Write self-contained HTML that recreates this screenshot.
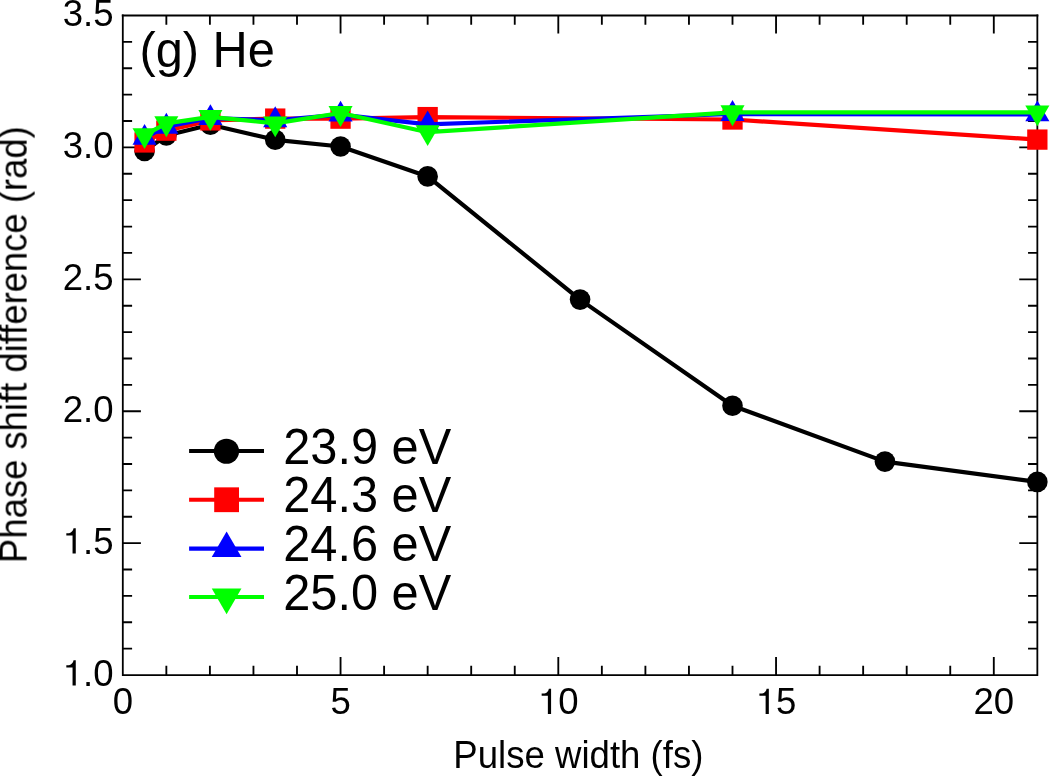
<!DOCTYPE html>
<html><head><meta charset="utf-8"><title>Phase shift difference vs pulse width</title>
<style>html,body{margin:0;padding:0;background:#fff;}body{width:1050px;height:776px;overflow:hidden;}svg{display:block;}text{font-family:"Liberation Sans",sans-serif;fill:#000;}</style>
</head><body>
<svg width="1050" height="776" viewBox="0 0 1050 776">
<rect x="0" y="0" width="1050" height="776" fill="#fff"/>
<path d="M166.35 675.05v-9.3M166.35 15.5v9.3M209.9 675.05v-9.3M209.9 15.5v9.3M253.45 675.05v-9.3M253.45 15.5v9.3M297 675.05v-9.3M297 15.5v9.3M340.55 675.05v-18.1M340.55 15.5v18.1M384.1 675.05v-9.3M384.1 15.5v9.3M427.65 675.05v-9.3M427.65 15.5v9.3M471.2 675.05v-9.3M471.2 15.5v9.3M514.75 675.05v-9.3M514.75 15.5v9.3M558.3 675.05v-18.1M558.3 15.5v18.1M601.85 675.05v-9.3M601.85 15.5v9.3M645.4 675.05v-9.3M645.4 15.5v9.3M688.95 675.05v-9.3M688.95 15.5v9.3M732.5 675.05v-9.3M732.5 15.5v9.3M776.05 675.05v-18.1M776.05 15.5v18.1M819.6 675.05v-9.3M819.6 15.5v9.3M863.15 675.05v-9.3M863.15 15.5v9.3M906.7 675.05v-9.3M906.7 15.5v9.3M950.25 675.05v-9.3M950.25 15.5v9.3M993.8 675.05v-18.1M993.8 15.5v18.1M122.8 648.67h9.3M1037.35 648.67h-9.3M122.8 622.29h9.3M1037.35 622.29h-9.3M122.8 595.9h9.3M1037.35 595.9h-9.3M122.8 569.52h9.3M1037.35 569.52h-9.3M122.8 543.14h18.1M1037.35 543.14h-18.1M122.8 516.76h9.3M1037.35 516.76h-9.3M122.8 490.38h9.3M1037.35 490.38h-9.3M122.8 463.99h9.3M1037.35 463.99h-9.3M122.8 437.61h9.3M1037.35 437.61h-9.3M122.8 411.23h18.1M1037.35 411.23h-18.1M122.8 384.85h9.3M1037.35 384.85h-9.3M122.8 358.47h9.3M1037.35 358.47h-9.3M122.8 332.08h9.3M1037.35 332.08h-9.3M122.8 305.7h9.3M1037.35 305.7h-9.3M122.8 279.32h18.1M1037.35 279.32h-18.1M122.8 252.94h9.3M1037.35 252.94h-9.3M122.8 226.56h9.3M1037.35 226.56h-9.3M122.8 200.17h9.3M1037.35 200.17h-9.3M122.8 173.79h9.3M1037.35 173.79h-9.3M122.8 147.41h18.1M1037.35 147.41h-18.1M122.8 121.03h9.3M1037.35 121.03h-9.3M122.8 94.65h9.3M1037.35 94.65h-9.3M122.8 68.26h9.3M1037.35 68.26h-9.3M122.8 41.88h9.3M1037.35 41.88h-9.3" stroke="#000" stroke-width="1.85" fill="none"/>
<path d="M122.8 15.5V675.05H1037.35V15.5" fill="none" stroke="#000" stroke-width="1.8" stroke-linecap="square"/>
<path d="M122.8 15.5H1037.35" fill="none" stroke="#000" stroke-width="2" stroke-linecap="square"/>
<g opacity="0.999">
<text transform="translate(62.63 26) scale(1 1.035)" font-size="36.6">3.5</text>
<text transform="translate(62.63 157.91) scale(1 1.035)" font-size="36.6">3.0</text>
<text transform="translate(62.63 289.82) scale(1 1.035)" font-size="36.6">2.5</text>
<text transform="translate(62.63 421.73) scale(1 1.035)" font-size="36.6">2.0</text>
<path d="M359 0V703H298C287 640 248 583 176 566H101V503H271V0Z" transform="translate(62.63 553.54) scale(0.03660 -0.03585)" fill="#000"/>
<text transform="translate(82.98 553.64) scale(1 1.035)" font-size="36.6">.5</text>
<path d="M359 0V703H298C287 640 248 583 176 566H101V503H271V0Z" transform="translate(62.63 685.45) scale(0.03660 -0.03585)" fill="#000"/>
<text transform="translate(82.98 685.55) scale(1 1.035)" font-size="36.6">.0</text>
<text transform="translate(112.63 714) scale(1 1.035)" font-size="36.6">0</text>
<text transform="translate(330.38 714) scale(1 1.035)" font-size="36.6">5</text>
<path d="M359 0V703H298C287 640 248 583 176 566H101V503H271V0Z" transform="translate(537.95 713.9) scale(0.03660 -0.03585)" fill="#000"/>
<text transform="translate(558.3 714) scale(1 1.035)" font-size="36.6">0</text>
<path d="M359 0V703H298C287 640 248 583 176 566H101V503H271V0Z" transform="translate(755.7 713.9) scale(0.03660 -0.03585)" fill="#000"/>
<text transform="translate(776.05 714) scale(1 1.035)" font-size="36.6">5</text>
<text transform="translate(973.45 714) scale(1 1.035)" font-size="36.6">20</text>
<text transform="translate(578.4 768.1) scale(1 1.04)" font-size="36.6" text-anchor="middle">Pulse width (fs)</text>
<text transform="translate(27 344.6) rotate(-90) scale(1 1.04)" font-size="36.45" text-anchor="middle">Phase shift difference (rad)</text>
<text transform="translate(139.5 66.9) scale(1 1.03)" font-size="48.75">(g) He</text>
</g>
<polyline points="144.57,150.97 166.35,135.5 210.4,124.8 275.22,139.8 340.55,146.5 427.65,176.4 580.07,299.6 732.5,405.7 884.92,461.6 1037.35,481.9" fill="none" stroke="#000" stroke-width="4.2" stroke-linejoin="round"/>
<circle cx="144.57" cy="150.97" r="10.3" fill="#000"/>
<circle cx="166.35" cy="135.5" r="10.3" fill="#000"/>
<circle cx="210.4" cy="124.8" r="10.3" fill="#000"/>
<circle cx="275.22" cy="139.8" r="10.3" fill="#000"/>
<circle cx="340.55" cy="146.5" r="10.3" fill="#000"/>
<circle cx="427.65" cy="176.4" r="10.3" fill="#000"/>
<circle cx="580.07" cy="299.6" r="10.3" fill="#000"/>
<circle cx="732.5" cy="405.7" r="10.3" fill="#000"/>
<circle cx="884.92" cy="461.6" r="10.3" fill="#000"/>
<circle cx="1037.35" cy="481.9" r="10.3" fill="#000"/>
<polyline points="144.57,142.45 166.35,130.65 210.4,120.4 275.22,118.6 340.55,118.65 427.65,117.1 732.5,119.5 1037.35,139.6" fill="none" stroke="#f00" stroke-width="4.2" stroke-linejoin="round"/>
<rect x="134.42" y="132.3" width="20.3" height="20.3" fill="#f00"/>
<rect x="156.2" y="120.5" width="20.3" height="20.3" fill="#f00"/>
<rect x="200.25" y="110.25" width="20.3" height="20.3" fill="#f00"/>
<rect x="265.07" y="108.45" width="20.3" height="20.3" fill="#f00"/>
<rect x="330.4" y="108.5" width="20.3" height="20.3" fill="#f00"/>
<rect x="417.5" y="106.95" width="20.3" height="20.3" fill="#f00"/>
<rect x="722.35" y="109.35" width="20.3" height="20.3" fill="#f00"/>
<rect x="1027.2" y="129.45" width="20.3" height="20.3" fill="#f00"/>
<polyline points="144.57,137.8 166.35,126.7 210.4,118.05 275.22,120.25 340.55,114.6 427.65,124.3 732.5,114 1037.35,114.3" fill="none" stroke="#00f" stroke-width="4.2" stroke-linejoin="round"/>
<polygon points="144.57,123.89 132.52,144.76 156.62,144.76" fill="#00f"/>
<polygon points="166.35,112.79 154.3,133.66 178.4,133.66" fill="#00f"/>
<polygon points="210.4,104.14 198.35,125.01 222.45,125.01" fill="#00f"/>
<polygon points="275.22,106.34 263.17,127.21 287.27,127.21" fill="#00f"/>
<polygon points="340.55,100.69 328.5,121.56 352.6,121.56" fill="#00f"/>
<polygon points="427.65,110.39 415.6,131.26 439.7,131.26" fill="#00f"/>
<polygon points="732.5,100.09 720.45,120.96 744.55,120.96" fill="#00f"/>
<polygon points="1037.35,100.39 1025.3,121.26 1049.4,121.26" fill="#00f"/>
<polyline points="144.57,135.2 166.35,123.3 210.4,116.9 275.22,123.35 340.55,113 427.65,132.2 732.5,112.3 1037.35,112.4" fill="none" stroke="#0f0" stroke-width="4.2" stroke-linejoin="round"/>
<polygon points="144.57,149.11 132.52,128.24 156.62,128.24" fill="#0f0"/>
<polygon points="166.35,137.21 154.3,116.34 178.4,116.34" fill="#0f0"/>
<polygon points="210.4,130.81 198.35,109.94 222.45,109.94" fill="#0f0"/>
<polygon points="275.22,137.26 263.17,116.39 287.27,116.39" fill="#0f0"/>
<polygon points="340.55,126.91 328.5,106.04 352.6,106.04" fill="#0f0"/>
<polygon points="427.65,146.11 415.6,125.24 439.7,125.24" fill="#0f0"/>
<polygon points="732.5,126.21 720.45,105.34 744.55,105.34" fill="#0f0"/>
<polygon points="1037.35,126.31 1025.3,105.44 1049.4,105.44" fill="#0f0"/>
<line x1="189.1" y1="451" x2="264" y2="451" stroke="#000" stroke-width="4.2"/>
<circle cx="226.45" cy="451.25" r="12.6" fill="#000"/>
<g opacity="0.999"><text transform="translate(283.2 463.7) scale(1 1.02)" font-size="48.75">23.9 eV</text></g>
<line x1="189.1" y1="499.75" x2="264" y2="499.75" stroke="#f00" stroke-width="4.2"/>
<rect x="214.2" y="487.35" width="24.8" height="24.8" fill="#f00"/>
<g opacity="0.999"><text transform="translate(283.2 512.45) scale(1 1.02)" font-size="48.75">24.3 eV</text></g>
<line x1="189.1" y1="548.55" x2="264" y2="548.55" stroke="#00f" stroke-width="4.2"/>
<polygon points="226.6,531.4 211.75,557.12 241.45,557.12" fill="#00f"/>
<g opacity="0.999"><text transform="translate(283.2 561.25) scale(1 1.02)" font-size="48.75">24.6 eV</text></g>
<line x1="189.1" y1="597" x2="264" y2="597" stroke="#0f0" stroke-width="4.2"/>
<polygon points="226.6,614.15 211.75,588.43 241.45,588.43" fill="#0f0"/>
<g opacity="0.999"><text transform="translate(283.2 609.7) scale(1 1.02)" font-size="48.75">25.0 eV</text></g>
</svg>
</body></html>
